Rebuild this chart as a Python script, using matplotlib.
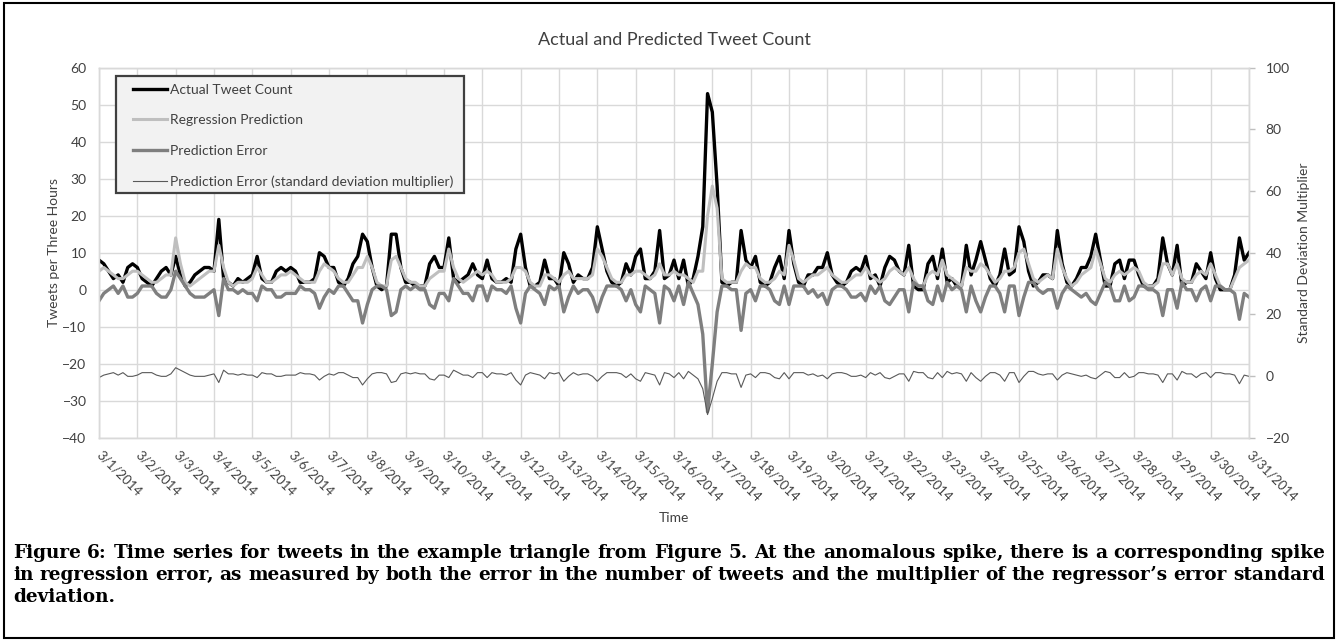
import matplotlib
matplotlib.use("Agg")
import matplotlib.pyplot as plt
import numpy as np
from matplotlib.patches import Rectangle

# ---------------- data (3-hour bins, 3/1/2014 00:00 .. 3/31/2014 00:00) ----------------
actual_counts = [
    8, 7, 5, 3, 4, 2, 6, 7,
    6, 3, 2, 1, 3, 5, 6, 4,
    9, 4, 1, 2, 4, 5, 6, 6,
    5, 19, 3, 2, 1, 3, 2, 3,
    4, 9, 3, 2, 2, 5, 6, 5,
    6, 5, 2, 2, 2, 3, 10, 9,
    6, 6, 2, 1, 3, 7, 9, 15,
    13, 6, 1, 0, 1, 15, 15, 6,
    2, 2, 1, 1, 1, 7, 9, 6,
    6, 14, 3, 2, 3, 4, 7, 4,
    3, 8, 3, 2, 2, 3, 2, 11,
    15, 6, 1, 1, 2, 8, 3, 3,
    1, 10, 7, 2, 4, 3, 3, 6,
    17, 11, 5, 2, 1, 2, 7, 4,
    9, 11, 3, 3, 5, 16, 3, 4,
    8, 3, 8, 1, 3, 9, 17, 53,
    48, 28, 2, 1, 2, 2, 16, 8,
    6, 9, 2, 1, 2, 6, 9, 3,
    16, 7, 2, 1, 4, 4, 6, 6,
    10, 4, 2, 1, 2, 5, 6, 5,
    9, 3, 4, 1, 6, 9, 8, 5,
    4, 12, 1, 0, 0, 7, 9, 3,
    11, 2, 3, 1, 1, 12, 4, 8,
    13, 8, 3, 1, 4, 11, 4, 5,
    17, 13, 5, 1, 2, 4, 4, 3,
    16, 7, 2, 1, 3, 6, 6, 9,
    15, 8, 1, 1, 7, 8, 3, 8,
    8, 4, 1, 1, 1, 3, 14, 7,
    4, 12, 1, 2, 2, 7, 5, 3,
    10, 3, 0, 0, 0, 4, 14, 8,
    10,
]

predicted_counts = [
    5, 6, 5, 4, 3, 3, 4, 5,
    5, 4, 3, 2, 2, 3, 4, 4,
    14, 7, 2, 1, 2, 3, 4, 5,
    5, 12, 6, 2, 1, 2, 2, 2,
    3, 6, 4, 2, 2, 3, 4, 4,
    5, 4, 3, 2, 2, 2, 5, 7,
    6, 5, 3, 2, 2, 4, 6, 6,
    9, 6, 2, 1, 1, 8, 9, 6,
    3, 2, 2, 1, 1, 3, 4, 5,
    5, 11, 6, 3, 2, 3, 4, 5,
    4, 5, 4, 2, 2, 2, 3, 6,
    6, 5, 2, 1, 1, 4, 4, 3,
    2, 4, 5, 3, 3, 3, 3, 4,
    11, 9, 6, 3, 2, 2, 4, 4,
    5, 5, 4, 3, 4, 7, 4, 4,
    5, 4, 4, 3, 2, 5, 5, 20,
    28, 22, 3, 2, 2, 2, 5, 7,
    6, 6, 3, 2, 2, 3, 5, 4,
    12, 8, 3, 2, 3, 4, 4, 5,
    6, 4, 3, 2, 2, 3, 4, 4,
    6, 4, 3, 2, 3, 5, 6, 5,
    4, 6, 3, 1, 1, 4, 5, 4,
    8, 4, 3, 2, 1, 6, 5, 5,
    7, 6, 4, 2, 3, 5, 5, 6,
    10, 11, 7, 3, 2, 3, 4, 3,
    11, 6, 3, 1, 2, 4, 5, 6,
    11, 7, 3, 2, 4, 5, 4, 5,
    6, 5, 2, 1, 1, 2, 7, 7,
    4, 7, 3, 2, 2, 4, 5, 4,
    7, 4, 1, 0, 0, 3, 6, 7,
    8,
]

prediction_error = [
    -3, -1, 0, 1, -1, 1, -2, -2,
    -1, 1, 1, 1, -1, -2, -2, 0,
    5, 3, 1, -1, -2, -2, -2, -1,
    0, -7, 3, 0, 0, -1, 0, -1,
    -1, -3, 1, 0, 0, -2, -2, -1,
    -1, -1, 1, 0, 0, -1, -5, -2,
    0, -1, 1, 1, -1, -3, -3, -9,
    -4, 0, 1, 1, 0, -7, -6, 0,
    1, 0, 1, 0, 0, -4, -5, -1,
    -1, -3, 3, 1, -1, -1, -3, 1,
    1, -3, 1, 0, 0, -1, 1, -5,
    -9, -1, 1, 0, -1, -4, 1, 0,
    1, -6, -2, 1, -1, 0, 0, -2,
    -6, -2, 1, 1, 1, 0, -3, 0,
    -4, -6, 1, 0, -1, -9, 1, 0,
    -3, 1, -4, 2, -1, -4, -12, -33,
    -20, -6, 1, 1, 0, 0, -11, -1,
    0, -3, 1, 1, 0, -3, -4, 1,
    -4, 1, 1, 1, -1, 0, -2, -1,
    -4, 0, 1, 1, 0, -2, -2, -1,
    -3, 1, -1, 1, -3, -4, -2, 0,
    0, -6, 2, 1, 1, -3, -4, 1,
    -3, 2, 0, 1, 0, -6, 1, -3,
    -6, -2, 1, 1, -1, -6, 1, 1,
    -7, -2, 2, 2, 0, -1, 0, 0,
    -5, -1, 1, 0, -1, -2, -1, -3,
    -4, -1, 2, 1, -3, -3, 1, -3,
    -2, 1, 1, 0, 0, -1, -7, 0,
    0, -5, 2, 0, 0, -3, 0, 1,
    -3, 1, 1, 0, 0, -1, -8, -1,
    -2,
]

error_sd_multiplier = [
    -0.5, 0.3, 0.7, 1.1, 0.3, 1.1, -0.1, -0.1,
    0.3, 1.1, 1.1, 1.1, 0.3, -0.1, -0.1, 0.7,
    2.7, 1.9, 1.1, 0.3, -0.1, -0.1, -0.1, 0.3,
    0.7, -2.1, 1.9, 0.7, 0.7, 0.3, 0.7, 0.3,
    0.3, -0.5, 1.1, 0.7, 0.7, -0.1, -0.1, 0.3,
    0.3, 0.3, 1.1, 0.7, 0.7, 0.3, -1.3, -0.1,
    0.7, 0.3, 1.1, 1.1, 0.3, -0.5, -0.5, -2.9,
    -0.9, 0.7, 1.1, 1.1, 0.7, -2.1, -1.7, 0.7,
    1.1, 0.7, 1.1, 0.7, 0.7, -0.9, -1.3, 0.3,
    0.3, -0.5, 1.9, 1.1, 0.3, 0.3, -0.5, 1.1,
    1.1, -0.5, 1.1, 0.7, 0.7, 0.3, 1.1, -1.3,
    -2.9, 0.3, 1.1, 0.7, 0.3, -0.9, 1.1, 0.7,
    1.1, -1.7, -0.1, 1.1, 0.3, 0.7, 0.7, -0.1,
    -1.7, -0.1, 1.1, 1.1, 1.1, 0.7, -0.5, 0.7,
    -0.9, -1.7, 1.1, 0.7, 0.3, -2.9, 1.1, 0.7,
    -0.5, 1.1, -0.9, 1.5, 0.3, -0.9, -4.1, -12.5,
    -7.3, -1.7, 1.1, 1.1, 0.7, 0.7, -3.7, 0.3,
    0.7, -0.5, 1.1, 1.1, 0.7, -0.5, -0.9, 1.1,
    -0.9, 1.1, 1.1, 1.1, 0.3, 0.7, -0.1, 0.3,
    -0.9, 0.7, 1.1, 1.1, 0.7, -0.1, -0.1, 0.3,
    -0.5, 1.1, 0.3, 1.1, -0.5, -0.9, -0.1, 0.7,
    0.7, -1.7, 1.5, 1.1, 1.1, -0.5, -0.9, 1.1,
    -0.5, 1.5, 0.7, 1.1, 0.7, -1.7, 1.1, -0.5,
    -1.7, -0.1, 1.1, 1.1, 0.3, -1.7, 1.1, 1.1,
    -2.1, -0.1, 1.5, 1.5, 0.7, 0.3, 0.7, 0.7,
    -1.3, 0.3, 1.1, 0.7, 0.3, -0.1, 0.3, -0.5,
    -0.9, 0.3, 1.5, 1.1, -0.5, -0.5, 1.1, -0.5,
    -0.1, 1.1, 1.1, 0.7, 0.7, 0.3, -2.1, 0.7,
    0.7, -1.3, 1.5, 0.7, 0.7, -0.5, 0.7, 1.1,
    -0.5, 1.1, 1.1, 0.7, 0.7, 0.3, -2.5, 0.3,
    -0.1,
]

date_labels = [
    "3/1/2014", "3/2/2014", "3/3/2014", "3/4/2014", "3/5/2014", "3/6/2014",
    "3/7/2014", "3/8/2014", "3/9/2014", "3/10/2014", "3/11/2014", "3/12/2014",
    "3/13/2014", "3/14/2014", "3/15/2014", "3/16/2014", "3/17/2014", "3/18/2014",
    "3/19/2014", "3/20/2014", "3/21/2014", "3/22/2014", "3/23/2014", "3/24/2014",
    "3/25/2014", "3/26/2014", "3/27/2014", "3/28/2014", "3/29/2014", "3/30/2014",
    "3/31/2014",
]

series_names = ["Actual Tweet Count", "Regression Prediction", "Prediction Error",
                "Prediction Error (standard deviation multiplier)"]

title_text = "Actual and Predicted Tweet Count"
caption_lines = [
    "Figure 6: Time series for tweets in the example triangle from Figure 5. At the anomalous spike, there is a corresponding spike",
    "in regression error, as measured by both the error in the number of tweets and the multiplier of the regressor\u2019s error standard",
    "deviation.",
]

# ---------------- figure ----------------
plt.rcParams['font.family'] = ['Lato', 'DejaVu Sans']
W, H = 1338, 641
fig = plt.figure(figsize=(W / 100, H / 100), dpi=100)
fig.patch.set_facecolor('white')

AX_L, AX_R, AX_T, AX_B = 99, 1249, 67.7, 437.7
ax = fig.add_axes([AX_L / W, 1 - AX_B / H, (AX_R - AX_L) / W, (AX_B - AX_T) / H])
ax2 = ax.twinx()


def ax_x(px):
    return (px - AX_L) / (AX_R - AX_L)


def ax_y(py):
    return (AX_B - py) / (AX_B - AX_T)


t = np.arange(len(actual_counts)) / 8.0  # days since 3/1/2014

TXT = '#404040'
GRID = '#D9D9D9'

l1, = ax.plot(t, actual_counts, color='black', lw=2.4, zorder=3)
l2, = ax.plot(t, predicted_counts, color='#BFBFBF', lw=2.2, zorder=4)
l3, = ax.plot(t, prediction_error, color='#7F7F7F', lw=2.4, zorder=5)
l4, = ax2.plot(t, error_sd_multiplier, color='#595959', lw=0.8)

ax.set_xlim(0, 30)
ax.set_ylim(-40, 60)
ax.set_yticks(np.arange(-40, 61, 10))
ax2.set_ylim(-20, 100)
ax2.set_yticks(np.arange(-20, 101, 20))
ax.set_xticks(np.arange(0, 31))
ax.set_xticklabels(date_labels, rotation=-45, ha='left', va='center',
                   rotation_mode='anchor', fontsize=9.5, color=TXT)

ax.grid(True, color=GRID, lw=1, zorder=0)
ax.set_axisbelow(True)
for a in (ax, ax2):
    for s in a.spines.values():
        s.set_color(GRID)
        s.set_linewidth(1)
ax.tick_params(axis='x', length=0, pad=11)
ax.tick_params(axis='y', length=0, pad=9, labelsize=10, labelcolor=TXT)
ax2.tick_params(axis='y', length=4, width=1, color='#BFBFBF', pad=8,
                labelsize=10, labelcolor=TXT)

ax.set_ylabel("Tweets per Three Hours", fontsize=10, color=TXT, labelpad=2)
ax2.set_ylabel("Standard Deviation Multiplier", fontsize=10, color=TXT, labelpad=6)
fig.text(674 / W, 1 - 518 / H, "Time", ha='center', va='center', fontsize=10, color=TXT)
fig.text(674 / W, 1 - 40 / H, title_text, ha='center', va='center', fontsize=13, color=TXT)

# legend: framed box + frameless legend content
frame = Rectangle((ax_x(116), ax_y(193)), ax_x(464) - ax_x(116), ax_y(76) - ax_y(193),
                  transform=ax.transAxes, facecolor='#F2F2F2', edgecolor='#404040',
                  lw=1.6, zorder=9, clip_on=False)
ax.add_patch(frame)
leg = ax.legend([l1, l2, l3, l4], series_names, loc='upper left',
                bbox_to_anchor=(ax_x(133), ax_y(84)), fontsize=10, frameon=False,
                borderpad=0, labelspacing=1.32, handlelength=2.45, handletextpad=0.2,
                borderaxespad=0)
for txt in leg.get_texts():
    txt.set_color(TXT)
leg.set_zorder(10)

# outer border of the whole figure
fig.patches.append(Rectangle((4 / W, 3 / H), (W - 8) / W, (H - 6) / H, transform=fig.transFigure,
                             fill=False, edgecolor='black', lw=1.5))

# ---------------- justified caption ----------------
renderer = fig.canvas.get_renderer()
CAP_X0, CAP_X1 = 13, 1325
CAP_FAMILY = 'DejaVu Serif'


def measure(s, size):
    tt = fig.text(0, 0, s, family=CAP_FAMILY, fontweight='bold', fontsize=size)
    w = tt.get_window_extent(renderer).width
    tt.remove()
    return w


# size chosen so the first caption line fills the caption width with normal spacing
cap_size = 12 * (CAP_X1 - CAP_X0 - 6) / measure(caption_lines[0], 12)
cap_kw = dict(family=CAP_FAMILY, fontweight='bold', fontsize=cap_size, color='black',
              va='center', ha='left')


def place_line(text, x0, x1, ypix, justify=True):
    words = text.split(' ')
    widths = [measure(w, cap_size) for w in words]
    if justify and len(words) > 1:
        gap = (x1 - x0 - sum(widths)) / (len(words) - 1)
    else:
        gap = measure('a a', cap_size) - measure('aa', cap_size)
    x = x0
    for w, wd in zip(words, widths):
        fig.text(x / W, 1 - ypix / H, w, **cap_kw)
        x += wd + gap


place_line(caption_lines[0], CAP_X0, CAP_X1, 553)
place_line(caption_lines[1], CAP_X0, CAP_X1, 575)
place_line(caption_lines[2], CAP_X0, CAP_X1, 597, justify=False)

fig.savefig("out.png", dpi=100)
